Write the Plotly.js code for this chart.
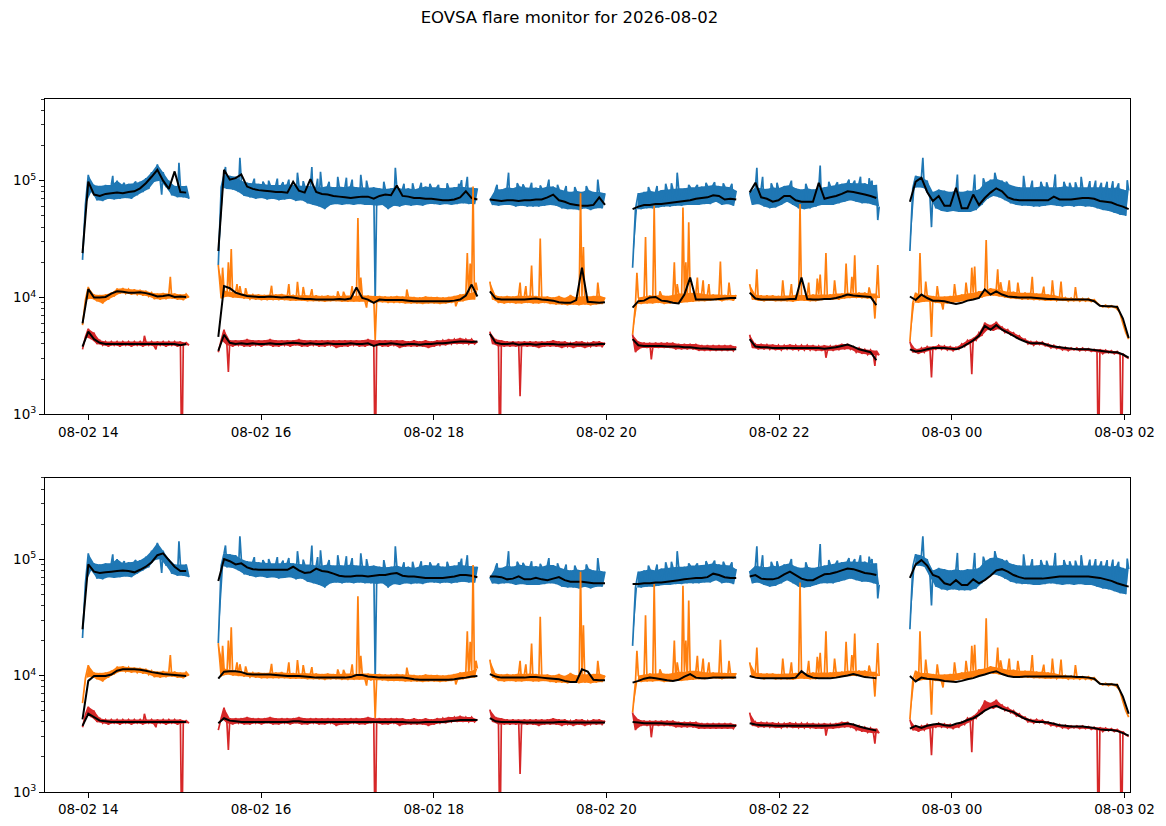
<!DOCTYPE html>
<html>
<head>
<meta charset="utf-8">
<script src="https://cdn.plot.ly/plotly-3.0.1.min.js"></script>
<style>
html, body { margin: 0; padding: 0; background: #fff; }
#chart { width: 1166px; height: 826px; }
</style>
</head>
<body>
<div id="chart"></div>
<script>
// EOVSA flare monitor, 2026-08-02
// All values are in units of 1e3 and split into the six observing segments.

const segStart = ['2026-08-02 13:56:00', '2026-08-02 15:30:20', '2026-08-02 18:39:00',
                  '2026-08-02 20:18:10', '2026-08-02 21:39:30', '2026-08-02 23:30:50'];
const rawStep = 2;    // minutes between raw samples
const smoothStep = 4; // minutes between smoothed samples

// raw channels (same in both panels): even samples = upper edge of the noise, odd = lower edge
const blueRaw = [
  [21,62,112,80,92,68,90,67,92,70, 92,69,100,70,92,71,94,70,95,75, 98,80,105,85,118,98,138,100,118,88, 100,75,90,72,90,72,90,70],
  [19,88,112,85,110,84,108,80,100,74, 96,72,95,70,94,71,93,69,92,70, 92,68,92,69,93,70,92,67,91,68,
   90,64,90,62,88,60,88,57,90,62, 88,63,89,62,88,63,90,62,88,63, 88,62,87,62,88,61,86,62,85,57,
   86,61,88,60,85,62,86,61,84,62, 87,61,89,63,88,63,88,62,86,63, 87,62,88,63,89,64,88,63,87,63, 86],
  [70,62,85,61,84,62,88,62,86,60, 90,61,88,60,87,60,87,60,86,61, 89,62,89,61,85,58,82,57,80,57,
   82,56,80,58,84,56,80,58,80,58, 78],
  [18,57,78,57,80,58,82,58,80,59, 83,60,84,60,85,61,86,61,86,62, 88,62,88,62,89,63,90,63,92,66, 90,62,89,63,88,61,82],
  [79,62,88,63,86,60,85,58,88,59, 86,62,90,66,92,62,86,58,84,57, 86,58,84,60,86,62,88,62,90,62,
   92,64,94,66,96,68,95,66,95,64, 95,64,92,62,92,60],
  [25,86,110,88,108,86,100,70,80,58, 84,55,82,54,80,55,82,54,80,54, 82,54,82,56,84,62,96,70,102,74,
   104,72,100,68,94,64,90,62,88,61, 88,61,88,60,88,60,90,61,88,62, 88,61,88,60,90,61,88,60,88,61,
   88,60,88,60,88,58,88,56,88,55, 86,53,88,51,84,50,82]
];
const orangeRaw = [
  [5.8,9.5,12.3,9.8,10.6,9.3,10.5,8.9,10.6,9.6, 11.0,10.2,11.9,10.8,12.0,10.8,11.8,10.6,11.7,10.6, 11.6,10.4,11.4,10.2,11.0,9.7,10.8,9.6,10.9,9.7, 10.8,9.8,10.8,9.6,10.6,9.5,10.7,10.0],
  [19,9.8,11.5,10.2,11.2,10.0,11.0,9.9,10.8,9.8, 10.7,9.7,10.6,9.6,10.6,9.5,10.5,9.5,10.6,9.5, 10.6,9.5,10.7,9.5,10.5,9.4,10.5,9.4,10.4,9.4,
   10.5,9.3,10.4,9.3,10.4,9.3,10.3,9.2,10.4,9.3, 10.3,9.3,10.3,9.2,10.4,9.2,10.4,9.2,10.3,9.2, 10.4,9.2,10.4,9.1,10.3,9.1,10.3,9.1,10.2,9.0,
   10.2,9.0,10.3,9.0,10.2,8.9,10.2,8.9,10.1,8.9, 10.0,8.8,10.2,8.9,10.1,8.9,10.1,8.8,10.0,8.9, 10.1,9.0,10.3,9.1,10.6,9.3,10.8,9.5,11.0,9.6, 11.5],
  [13.7,9.6,10.4,9.0,10.2,8.9,10.3,9.0,10.2,8.9, 10.4,8.9,10.3,9.0,10.4,8.9,10.3,8.9,10.2,9.0, 10.2,8.8,10.0,8.7,10.3,8.7,9.9,8.6,10.5,8.7,
   10.0,8.6,10.3,8.7,10.2,8.6,10.3,8.7,10.4,8.8, 10.0],
  [4.8,8.8,10.0,8.8,10.2,8.9,10.4,8.9,10.4,9.0, 10.5,8.8,10.3,8.9,10.5,9.0,10.8,9.0,10.8,9.1, 11.0,9.2,11.0,9.3,10.8,9.3,10.6,9.4,10.6,9.5, 10.6,9.3,10.5,9.5,10.5,9.4,10.5],
  [13,9.6,10.6,9.4,10.4,9.3,10.4,9.4,10.4,9.3, 10.3,9.3,10.4,9.3,10.4,9.2,10.5,9.4,10.5,9.4, 10.5,9.3,10.6,9.3,10.6,9.5,10.6,9.6,10.6,9.6,
   10.8,9.6,10.8,9.8,11.0,9.9,11.0,9.9,11.0,9.9, 11.0,9.8,10.8,9.8,10.8,9.9],
  [4.2,9.0,11.0,9.0,10.5,9.2,10.5,9.2,10.3,9.0, 10.2,8.9,10.2,8.9,10.3,9.0,10.4,9.2,10.6,9.3, 10.8,9.4,11.0,9.8,11.3,10.0,11.5,10.3,12.0,10.4,
   11.8,10.2,11.5,10.0,11.2,9.8,11.2,9.7,11.0,9.6, 11.0,9.6,11.0,9.5,10.8,9.5,10.8,9.4,10.6,9.4, 10.5,9.4,10.2,9.4,10.0,9.3,9.9,9.3,9.9,9.3,
   9.8,9.3,9.8,9.2,9.6,9.0,8.6,8.3,8.6,8.2, 8.5,8.2,8.4,7.3,6.0,5.0,4.4]
];
const redRaw = [
  [3.6,4.6,5.4,4.4,5.0,4.0,4.3,3.9,4.2,3.8, 4.2,3.9,4.2,3.8,4.2,3.9,4.2,3.8,4.2,3.9, 4.2,3.8,4.2,3.9,4.2,3.8,4.2,3.9,4.2,3.8, 4.2,3.9,4.2,3.8,4.2,3.9,4.1,3.9],
  [3.4,4.3,5.3,3.9,4.3,3.8,4.3,3.9,4.3,3.8, 4.4,3.8,4.3,3.9,4.3,3.8,4.3,3.9,4.4,3.8, 4.3,3.8,4.3,3.9,4.3,3.8,4.3,3.9,4.4,3.8,
   4.3,3.8,4.3,3.9,4.3,3.8,4.3,3.8,4.3,3.9, 4.3,3.7,4.3,3.8,4.3,3.8,4.3,3.9,4.3,3.8, 4.3,3.8,4.4,3.9,4.3,3.9,4.3,3.8,4.3,3.8,
   4.3,3.9,4.3,3.7,4.3,3.8,4.2,3.8,4.3,3.8, 4.2,3.8,4.3,3.7,4.2,3.8,4.3,3.9,4.3,3.9, 4.4,4.0,4.4,4.0,4.5,4.0,4.4,4.0,4.4,4.0, 4.2],
  [5.1,4.0,4.4,3.8,4.3,3.8,4.2,3.8,4.2,3.8, 4.2,3.8,4.2,3.8,4.2,3.8,4.2,3.7,4.2,3.8, 4.2,3.8,4.3,3.8,4.2,3.7,4.2,3.8,4.1,3.7,
   4.2,3.8,4.2,3.7,4.1,3.8,4.2,3.8,4.2,3.8, 4.1],
  [4.8,3.4,4.2,3.7,4.1,3.7,4.1,3.7,4.1,3.7, 4.1,3.7,4.1,3.7,4.1,3.6,4.0,3.6,4.0,3.6, 4.0,3.6,4.0,3.5,3.9,3.5,3.9,3.5,3.9,3.5, 3.9,3.5,3.9,3.5,3.9,3.5,3.8],
  [4.8,3.7,4.0,3.6,4.0,3.6,3.95,3.6,3.95,3.55, 3.9,3.55,3.9,3.6,3.95,3.55,3.9,3.55,3.9,3.55, 3.9,3.55,3.9,3.5,3.85,3.5,3.9,3.5,3.85,3.5,
   3.9,3.55,4.0,3.6,4.0,3.6,3.8,3.4,3.7,3.3, 3.6,3.25,3.55,3.2,3.5,3.2],
  [4.2,3.4,3.6,3.3,3.7,3.4,3.8,3.5,3.8,3.6, 3.9,3.6,3.85,3.55,3.8,3.5,3.75,3.6,4.0,3.8, 4.3,4.0,4.5,4.3,5.0,4.7,6.1,5.3,5.8,5.2,
   6.2,5.4,5.6,5.0,5.3,4.8,5.0,4.5,4.7,4.3, 4.4,4.0,4.2,3.9,4.2,3.95,4.15,3.85,4.0,3.7, 3.9,3.65,3.8,3.55,3.75,3.5,3.7,3.55,3.7,3.5,
   3.7,3.5,3.65,3.45,3.6,3.4,3.6,3.3,3.55,3.35, 3.5,3.3,3.45,3.25,3.3,3.1,3.0]
];

// isolated spikes: [segment, minutes after segment start, value]
const blueSpikes = [
  [0,21,110],[0,29,96],[0,37,98],[0,55,76],[0,67,142],
  [1,5,131],[1,15,157],[1,25,104],[1,31,98],[1,35,100],[1,41,104],[1,45,97],[1,49,102],[1,55,117],[1,59,99],
  [1,65,131],[1,69,104],[1,71,119],[1,77,98],[1,83,108],[1,89,106],[1,93,102],[1,99,112],[1,103,100],[1,109,9.2],
  [1,115,98],[1,123,129],[1,129,94],[1,135,95],[1,141,96],[1,147,94],[1,153,92],[1,159,95],[1,167,94],[1,169,101],[1,173,108],
  [2,5,92],[2,13,117],[2,19,95],[2,23,93],[2,29,96],[2,35,91],[2,41,102],[2,47,92],[2,53,90],[2,59,88],[2,67,90],[2,75,102],
  [3,11,88],[3,17,90],[3,23,94],[3,27,95],[3,31,117],[3,39,92],[3,45,92],[3,51,96],[3,57,97],[3,63,95],[3,69,94],
  [4,5,129],[4,9,108],[4,15,95],[4,19,96],[4,29,100],[4,39,94],[4,49,135],[4,55,98],[4,61,97],[4,69,102],[4,73,100],
  [4,77,108],[4,83,105],[4,85,100],[4,89,46],
  [5,9,157],[5,15,40],[5,33,113],[5,45,113],[5,51,105],[5,59,117],[5,67,98],[5,79,110],[5,85,100],[5,91,98],[5,95,97],
  [5,101,113],[5,107,98],[5,111,96],[5,115,97],[5,119,108],[5,125,99],[5,129,100],[5,133,96],[5,137,98],[5,141,99],
  [5,145,95],[5,151,101]
];
const orangeSpikes = [
  [0,61,15.0],
  [1,3,18],[1,7,20],[1,9,26],[1,13,13],[1,15,12.5],[1,19,12],[1,37,12.6],[1,49,13],[1,55,13.6],[1,59,12.3],
  [1,65,11.8],[1,83,11.3],[1,87,11.2],[1,93,12.5],[1,97,48],[1,99,14.8],[1,103,8.2],[1,109,4.3],[1,131,11.7],
  [1,165,8.4],[1,173,24],[1,175,19.5],[1,177,89],[1,179,13.4],
  [2,21,13.4],[2,25,12.5],[2,29,18.8],[2,35,32],[2,63,78],[2,65,27],[2,75,13.4],
  [3,3,16.3],[3,9,33],[3,15,61],[3,19,11.3],[3,29,20],[3,31,13],[3,35,59],[3,37,20],[3,39,44],[3,45,14.8],
  [3,49,14],[3,53,13],[3,61,20.3],[3,67,13.4],
  [4,5,17.4],[4,23,14],[4,29,13],[4,35,63],[4,41,13.4],[4,47,14.5],[4,49,15.7],[4,53,24],[4,59,14],[4,67,19.5],
  [4,71,15],[4,73,23],[4,83,12.2],[4,87,6.6],[4,89,19],
  [5,7,24],[5,11,13.7],[5,15,4.6],[5,19,12.5],[5,23,7.9],[5,31,13],[5,39,13.4],[5,43,18],[5,45,18.4],[5,53,31],
  [5,61,17.4],[5,63,13.5],[5,69,14],[5,75,13.4],[5,85,15],[5,93,12.4],[5,99,14],[5,105,13.7],[5,115,12.3]
];
const redSpikes = [
  [0,43,4.7],[0,51,3.6],[0,69,0.3],
  [1,7,2.3],[1,109,0.3],
  [2,7,0.3],[2,21,1.43],
  [3,13,2.95],
  [4,53,3.05],[4,87,2.6],
  [5,15,2.07],[5,43,2.2],[5,131,0.3],[5,147,0.3]
];

// smoothed channels, top panel
const blueTop = [
  [24,98,76,74,77,78,79,78,80,81,86,95,108,124,100,85,120,80,79],
  [25,124,102,105,113,89,85,83,82,81, 80,80,79,98,82,79,103,80,77,76, 74,73,72,71,72,73,73,70,74,76,
   75,91,74,73,71,71,70,70,69,68, 68,69,72,81,71,69],
  [69,68,67,68,68,67,68,68,69,69,72,76,68,66,63,62,61,61,62,72,62],
  [57,60,62,62,63,63,64,65,66,67,68,70,71,72,75,74,69,70,69],
  [79,96,72,70,66,68,74,74,68,66,66,66,96,70,72,74,77,81,80,78,76,74,71],
  [66,98,106,80,67,74,61,61,87,58, 58,76,62,71,79,86,81,72,69,68, 68,68,68,68,68,73,69,69,69,70,
   71,71,70,67,66,65,62,60,57]
];
const orangeTop = [
  [6.0,11.8,10.0,10.0,10.1,10.8,11.3,11.2,11.0,11.0,11.1,10.9,10.6,10.2,10.3,10.5,10.1,10.2,10.1],
  [4.6,12.5,12.0,11.0,10.6,10.3,10.2,10.1,10.1,10.2, 10.1,10.0,10.1,10.0,9.8,9.7,9.7,9.6,9.6,9.6,
   9.6,9.7,9.6,9.8,12.2,9.9,9.6,9.0,9.6,9.5, 9.5,9.5,9.5,9.4,9.3,9.3,9.3,9.3,9.3,9.3, 9.3,9.4,9.6,10.4,12.9,10.2],
  [11.3,9.8,9.6,9.6,9.6,9.6,9.6,9.7,9.8,9.6,9.5,9.4,9.1,9.0,9.0,9.5,18,9.2,9.1,9.0,9.1],
  [8.2,9.3,9.4,10.0,10.1,9.4,9.3,9.0,8.9,10.6,14.8,9.6,9.6,9.6,9.6,9.7,9.8,9.9,9.9],
  [11.0,9.8,9.6,9.6,9.6,9.6,9.6,9.7,9.7,14.8,9.7,9.6,9.6,9.7,9.7,9.9,10.2,10.6,10.4,10.3,10.2,10.1,8.6],
  [10.2,9.5,10.6,9.9,9.4,9.4,9.3,9.0,8.8,9.0, 9.4,9.6,9.9,11.7,10.6,11.3,10.6,10.2,10.1,10.0,
   10.0,10.0,9.9,9.8,9.7,9.7,9.6,9.6,9.6,9.6, 9.6,9.6,9.3,8.5,8.4,8.4,8.3,6.6,4.5]
];
const redTop = [
  [3.8,5.1,4.4,4.1,4.0,4.0,4.0,4.0,4.0,4.0,4.0,4.0,4.0,4.0,4.0,4.0,4.0,3.9,4.0],
  [3.5,4.8,4.1,4.0,4.05,4.0,4.05,4.0,4.0,4.05, 4.0,4.0,4.05,4.1,4.05,4.0,4.05,4.0,4.0,4.05,
   4.0,4.0,4.0,4.05,4.0,4.0,4.05,3.85,4.0,4.0, 4.05,4.0,3.95,4.0,4.0,3.95,4.0,4.0,4.05,4.05, 4.1,4.15,4.2,4.2,4.15,4.2],
  [4.9,4.1,4.0,4.0,4.05,3.95,4.0,4.0,3.95,4.0,4.0,4.0,3.95,3.95,4.0,3.95,3.95,3.95,3.95,4.0,4.0],
  [4.4,3.9,3.85,3.85,3.85,3.85,3.8,3.8,3.8,3.75,3.75,3.7,3.65,3.65,3.6,3.6,3.6,3.6,3.6],
  [4.4,3.8,3.75,3.75,3.7,3.7,3.7,3.7,3.7,3.7,3.7,3.7,3.7,3.65,3.7,3.75,3.85,3.95,3.8,3.6,3.5,3.4,2.9],
  [3.6,3.45,3.5,3.6,3.7,3.7,3.7,3.65,3.6,3.75, 4.0,4.3,4.7,5.7,5.3,5.8,5.3,5.0,4.7,4.4,
   4.2,4.05,4.05,4.05,3.9,3.8,3.75,3.7,3.65,3.6, 3.6,3.6,3.55,3.5,3.45,3.4,3.4,3.25,3.05]
];

// smoothed channels, bottom panel
const blueBot = [
  [25,90,78,76,77,78,79,80,79,77,81,86,94,108,112,98,86,79,79],
  [65,100,96,90,92,85,82,81,81,81, 81,81,81,86,80,76,77,83,79,78, 75,72,71,71,72,72,71,72,73,73,
   75,76,72,71,71,70,69,69,69,69, 70,71,73,73,72,70],
  [71,71,70,67,68,71,67,67,69,67,66,68,70,66,64,64,64,63,62,62,62],
  [61,61,62,62,63,63,64,65,66,67,68,69,69,70,75,73,70,69,69],
  [71,73,68,67,67,69,74,78,73,68,66,66,70,74,75,77,80,83,82,79,76,75,73],
  [69,90,98,88,73,70,62,60,66,60, 60,67,62,66,72,80,82,78,73,70, 68,68,68,68,69,70,71,71,71,71,
   71,71,70,69,67,65,62,60,58]
];
const orangeBot = [
  [4.2,9.0,9.9,9.9,9.9,10.2,11.0,11.3,11.3,11.3,11.2,11.0,10.7,10.5,10.3,10.2,10.1,10.0,9.9],
  [9.4,10.8,10.9,10.9,10.7,10.3,10.2,10.2,10.2,10.2, 10.1,10.0,9.9,9.9,9.9,9.8,9.7,9.6,9.6,9.6,
   9.6,9.6,9.6,9.7,10.1,10.1,9.8,9.7,9.6,9.6, 9.6,9.6,9.6,9.5,9.3,9.2,9.2,9.2,9.2,9.2, 9.2,9.3,9.5,9.6,9.8,9.9],
  [10.3,9.8,9.6,9.6,9.6,9.6,9.6,9.7,9.7,9.6,9.5,9.4,9.3,9.0,8.8,8.8,11.3,10.8,9.2,9.1,9.1],
  [8.7,9.0,9.4,9.6,9.5,9.3,9.1,9.0,9.2,9.8,10.3,9.6,9.5,9.5,9.6,9.6,9.6,9.6,9.6],
  [9.9,9.6,9.5,9.5,9.5,9.5,9.5,9.5,9.6,10.9,10.0,9.6,9.5,9.5,9.5,9.6,9.8,10.0,10.3,10.0,9.7,9.6,9.5],
  [9.9,8.9,9.6,9.4,9.3,9.2,9.0,8.9,8.8,9.0, 9.3,9.5,9.9,10.2,10.6,10.9,10.3,9.9,9.7,9.7,
   9.8,9.8,9.8,9.8,9.8,9.8,9.8,9.8,9.8,9.7, 9.7,9.6,9.4,8.5,8.4,8.4,8.3,6.6,4.7]
];
const redBot = [
  [3.7,4.7,4.4,4.1,4.05,4.0,4.0,4.0,4.0,4.0,4.0,4.0,4.0,4.0,4.0,4.0,4.0,4.0,4.0],
  [3.9,4.3,4.1,4.05,4.0,4.0,4.0,4.0,4.0,4.0, 4.0,4.0,4.0,4.05,4.05,4.0,4.0,4.0,4.0,4.0,
   4.0,4.0,4.0,4.0,4.0,4.0,4.0,4.0,4.0,4.0, 4.0,4.0,4.0,3.95,3.95,3.95,4.0,4.0,4.0,4.0, 4.05,4.1,4.15,4.15,4.15,4.15],
  [4.3,4.05,4.0,4.0,4.0,4.0,3.95,3.95,3.95,3.95,3.95,3.95,4.0,4.0,3.95,3.95,3.95,3.95,3.95,3.95,3.95],
  [4.0,3.95,3.9,3.9,3.9,3.9,3.85,3.85,3.85,3.8,3.8,3.75,3.7,3.7,3.7,3.7,3.7,3.7,3.7],
  [3.9,3.8,3.75,3.75,3.72,3.7,3.7,3.7,3.7,3.7,3.7,3.7,3.7,3.7,3.72,3.75,3.8,3.87,3.8,3.65,3.55,3.45,3.38],
  [3.5,3.7,3.55,3.7,3.8,3.85,3.75,3.7,3.85,3.95, 4.15,4.3,4.6,5.0,5.3,5.5,5.2,5.0,4.85,4.5,
   4.25,4.1,4.0,4.0,3.95,3.85,3.75,3.7,3.65,3.65, 3.65,3.6,3.55,3.45,3.4,3.4,3.35,3.2,3.05]
];

const yTickVals = [1e3, 1e4, 1e5];
const yTickText = ['10<sup>3</sup>', '10<sup>4</sup>', '10<sup>5</sup>'];
const yMinorVals = [2e3,3e3,4e3,5e3,6e3,7e3,8e3,9e3, 2e4,3e4,4e4,5e4,6e4,7e4,8e4,9e4, 2e5,3e5,4e5,5e5];

function stamp(ms) {
    return new Date(ms).toISOString().slice(0, 19).replace('T', ' ');
}

function segT0(k) {
    return Date.parse(segStart[k].replace(' ', 'T') + 'Z');
}

function baseTrace(xa, ya, color, width) {
    return {xaxis: xa, yaxis: ya, type: 'scatter', mode: 'lines',
            line: {color: color, width: width, simplify: false},
            connectgaps: false, hoverinfo: 'skip', showlegend: false};
}

function rawLine(segs, spikes, color, xa, ya) {
    // noise samples with the spikes slotted in, a null between segments
    let x = [], y = [];
    segs.forEach((vals, k) => {
        let pts = vals.map((v, i) => [i * rawStep, v]);
        spikes.filter(s => s[0] === k).forEach(s => pts.push([s[1], s[2]]));
        pts.sort((a, b) => a[0] - b[0]);
        let t0 = segT0(k);
        pts.forEach(p => { x.push(stamp(t0 + p[0] * 60000)); y.push(p[1] * 1000); });
        x.push(stamp(t0 + vals.length * rawStep * 60000)); y.push(null);
    });
    return Object.assign({x: x, y: y}, baseTrace(xa, ya, color, 1.7));
}

function band(segs, color, xa, ya) {
    // shade between the upper-edge and lower-edge samples of each segment
    let out = [];
    segs.forEach((vals, k) => {
        let t0 = segT0(k);
        let ux = [], uy = [], lx = [], ly = [];
        vals.forEach((v, i) => {
            let t = stamp(t0 + i * rawStep * 60000);
            if (i % 2 === 0) { ux.push(t); uy.push(v * 1000); }
            else { lx.push(t); ly.push(v * 1000); }
        });
        out.push(Object.assign({x: ux, y: uy}, baseTrace(xa, ya, color, 0)));
        out.push(Object.assign({x: lx, y: ly, fill: 'tonexty', fillcolor: color}, baseTrace(xa, ya, color, 0)));
    });
    return out;
}

function smoothLine(segs, xa, ya) {
    let x = [], y = [];
    segs.forEach((vals, k) => {
        let t0 = segT0(k);
        vals.forEach((v, i) => { x.push(stamp(t0 + i * smoothStep * 60000)); y.push(v * 1000); });
        x.push(stamp(t0 + vals.length * smoothStep * 60000)); y.push(null);
    });
    return Object.assign({x: x, y: y}, baseTrace(xa, ya, '#000000', 2));
}

let data = [];
[['x', 'y', blueTop, orangeTop, redTop], ['x2', 'y2', blueBot, orangeBot, redBot]].forEach(p => {
    [[blueRaw, blueSpikes, '#1f77b4', p[2]],
     [orangeRaw, orangeSpikes, '#ff7f0e', p[3]],
     [redRaw, redSpikes, '#d62728', p[4]]].forEach(c => {
        data = data.concat(band(c[0], c[2], p[0], p[1]));
        data.push(rawLine(c[0], c[1], c[2], p[0], p[1]));
        data.push(smoothLine(c[3], p[0], p[1]));
    });
});

const tickFont = {family: 'DejaVu Sans', size: 13.5, color: '#000'};

function xAxis(anchor) {
    return {
        anchor: anchor, type: 'date',
        range: ['2026-08-02 13:29:56', '2026-08-03 02:03:45'],
        tick0: '2026-08-02 00:00:00', dtick: 7200000, tickformat: '%m-%d %H',
        ticks: 'outside', ticklen: 5, tickwidth: 1, tickcolor: '#000',
        showline: true, mirror: true, linecolor: '#000', linewidth: 1,
        showgrid: false, zeroline: false, tickfont: tickFont
    };
}

function yAxis(anchor, domain) {
    return {
        anchor: anchor, domain: domain, type: 'log', range: [3, 5.699],
        tickmode: 'array', tickvals: yTickVals, ticktext: yTickText,
        ticks: 'outside', ticklen: 5, tickwidth: 1, tickcolor: '#000',
        minor: {tickmode: 'array', tickvals: yMinorVals, ticks: 'outside', ticklen: 3,
                tickwidth: 0.8, tickcolor: '#000', showgrid: false},
        showline: true, mirror: true, linecolor: '#000', linewidth: 1,
        showgrid: false, zeroline: false, tickfont: tickFont
    };
}

const layout = {
    width: 1166, height: 826,
    paper_bgcolor: '#fff', plot_bgcolor: '#fff',
    margin: {l: 45, r: 35.5, t: 99.3, b: 34.3},
    font: {family: 'DejaVu Sans', color: '#000'},
    title: {
        text: 'EOVSA flare monitor for 2026-08-02',
        font: {family: 'DejaVu Sans', size: 16.5, color: '#000'},
        xref: 'container', yref: 'container', x: 0.4884, y: 0.979,
        xanchor: 'center', yanchor: 'middle'
    },
    showlegend: false,
    xaxis: xAxis('y'),
    yaxis: yAxis('x', [0.545, 1]),
    xaxis2: xAxis('y2'),
    yaxis2: yAxis('x2', [0, 0.4535])
};

Plotly.newPlot('chart', data, layout, {displayModeBar: false, staticPlot: true});
</script>
</body>
</html>
